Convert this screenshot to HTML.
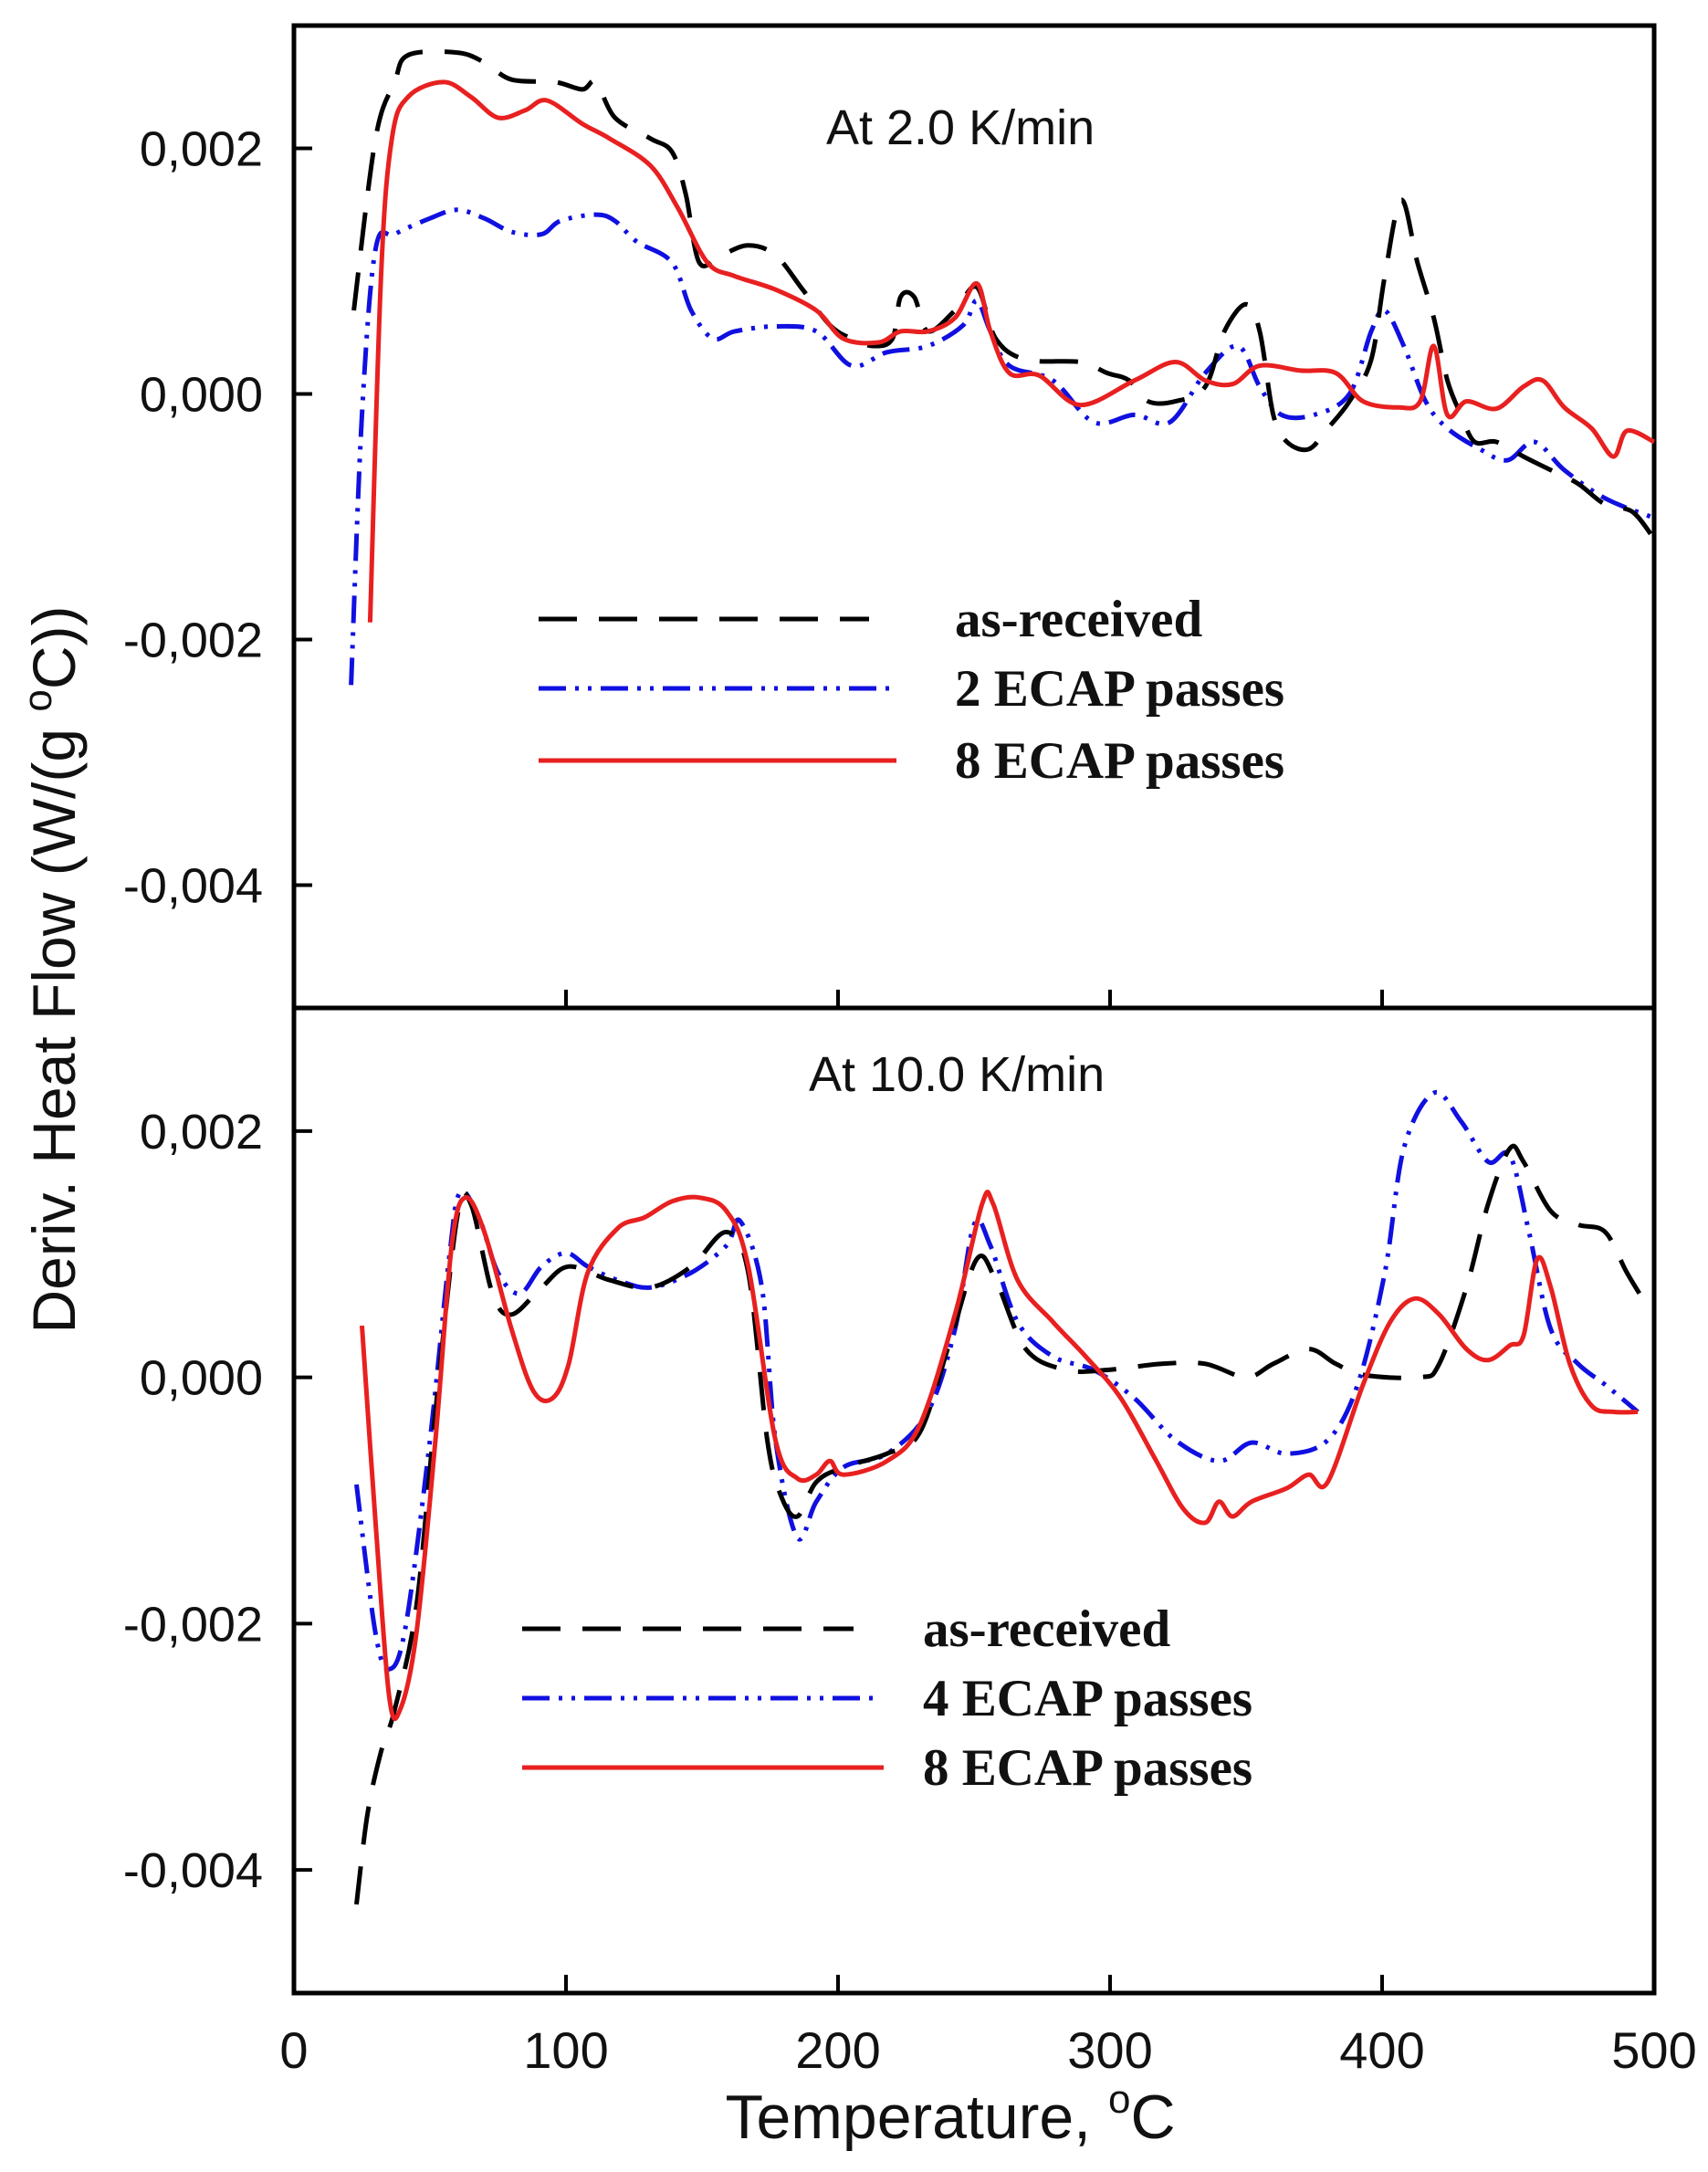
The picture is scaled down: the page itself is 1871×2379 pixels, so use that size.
<!DOCTYPE html>
<html><head><meta charset="utf-8"><style>
html,body{margin:0;padding:0;background:#fff;}
svg{display:block;}
</style></head><body>
<svg id="chart" width="1871" height="2379" viewBox="0 0 1871 2379" xmlns="http://www.w3.org/2000/svg" font-family="'Liberation Sans', sans-serif">
<g id="axes"></g>
<g id="plots"></g>
<text x="905" y="158" font-size="54" fill="#111">At 2.0 K/min</text>
<text x="886" y="1195" font-size="54" fill="#111">At 10.0 K/min</text>
<text x="1041" y="2342" font-size="68" text-anchor="middle" fill="#111">Temperature, <tspan font-size="44" dy="-28">o</tspan><tspan dy="28">C</tspan></text>
<text transform="translate(82,1062) rotate(-90)" font-size="66" text-anchor="middle" fill="#111">Deriv. Heat Flow (W/(g <tspan font-size="44" dy="-26">o</tspan><tspan dy="26">C))</tspan></text>
<g font-family="'Liberation Serif', serif" font-weight="bold" font-size="57" fill="#111">
<line x1="590" y1="678" x2="952" y2="678" stroke="#000" stroke-width="5" stroke-dasharray="42,24"/>
<text x="1046" y="697">as-received</text>
<line x1="590" y1="754" x2="975" y2="754" stroke="#1010e0" stroke-width="5" stroke-dasharray="30,10,4,10,4,10"/>
<text x="1046" y="773">2 ECAP passes</text>
<line x1="590" y1="833" x2="982" y2="833" stroke="#e82020" stroke-width="5"/>
<text x="1046" y="852">8 ECAP passes</text>
</g>
<g font-family="'Liberation Serif', serif" font-weight="bold" font-size="57" fill="#111">
<line x1="572" y1="1784" x2="935" y2="1784" stroke="#000" stroke-width="5" stroke-dasharray="42,24"/>
<text x="1011" y="1803">as-received</text>
<line x1="572" y1="1860" x2="960" y2="1860" stroke="#1010e0" stroke-width="5" stroke-dasharray="30,10,4,10,4,10"/>
<text x="1011" y="1879">4 ECAP passes</text>
<line x1="572" y1="1936" x2="968" y2="1936" stroke="#e82020" stroke-width="5"/>
<text x="1011" y="1955">8 ECAP passes</text>
</g>
</svg>
<script>
// values in units of 1e-3 W/(g°C)
const xTicks = [0,100,200,300,400,500];
const yTicks = [0.002,0,-0.002,-0.004];
const yTickLabels = ["0,002","0,000","-0,002","-0,004"];
const topAsT = [22,30,37,42,60,70,80,96,106,111,118,131,139,144,149,157,167,177,187,197,205,213,220,223,228,233,243,251,258,269,289,299,307,314,324,335,342,350,355,360,365,373,380,388,396,401,407,413,419,424,429,434,442,452,462,472,482,492,500];
const topAsV = [0.68,2.08,2.54,2.76,2.78,2.70,2.56,2.54,2.48,2.54,2.25,2.08,1.97,1.63,1.07,1.13,1.21,1.13,0.85,0.56,0.45,0.39,0.45,0.79,0.79,0.51,0.68,0.87,0.45,0.28,0.26,0.17,0.11,-0.06,-0.06,0.06,0.51,0.73,0.51,-0.17,-0.39,-0.45,-0.28,-0.06,0.28,0.96,1.58,1.07,0.62,0.11,-0.17,-0.39,-0.39,-0.51,-0.62,-0.73,-0.90,-0.96,-1.18];
const top2T = [21,25,30,37,50,60,70,80,91,98,111,118,126,139,146,154,162,177,192,205,218,233,246,251,256,263,279,294,309,322,335,347,355,363,375,388,396,401,408,416,424,436,446,456,467,482,500];
const top2V = [-2.37,-0.17,1.18,1.30,1.43,1.50,1.43,1.32,1.30,1.41,1.46,1.41,1.24,1.07,0.68,0.45,0.51,0.55,0.51,0.23,0.34,0.39,0.56,0.76,0.51,0.23,0.11,-0.23,-0.17,-0.23,0.17,0.39,0.06,-0.17,-0.17,0.0,0.51,0.68,0.39,-0.06,-0.28,-0.45,-0.54,-0.39,-0.62,-0.85,-1.01];
const top8T = [28,32,36,42,55,65,75,85,93,106,116,131,141,152,162,177,192,202,215,223,233,243,251,256,263,274,289,309,324,335,345,355,370,383,393,406,414,419,424,431,442,452,459,467,477,485,490,500];
const top8V = [-1.86,0.96,2.08,2.42,2.54,2.42,2.25,2.31,2.39,2.20,2.08,1.86,1.52,1.07,0.96,0.85,0.68,0.45,0.42,0.51,0.51,0.62,0.90,0.51,0.17,0.15,-0.09,0.11,0.26,0.11,0.08,0.23,0.19,0.17,-0.06,-0.11,-0.06,0.39,-0.17,-0.06,-0.12,0.06,0.11,-0.11,-0.28,-0.51,-0.30,-0.39];
const botAsT = [23,27,32,37,45,52,60,65,73,80,91,101,116,131,146,159,167,174,179,185,192,202,218,230,241,251,258,269,284,299,319,335,350,360,373,383,393,414,421,431,439,447,452,462,472,482,490,498];
const botAsV = [-4.28,-3.55,-3.04,-2.70,-1.86,-0.28,1.30,1.41,0.68,0.51,0.73,0.90,0.79,0.73,0.90,1.18,0.85,-0.51,-0.96,-1.13,-0.85,-0.73,-0.62,-0.45,0.28,0.96,0.79,0.23,0.06,0.06,0.11,0.11,0.0,0.11,0.23,0.11,0.02,0.0,0.11,0.73,1.41,1.86,1.75,1.35,1.24,1.18,0.85,0.56];
const bot4T = [23,30,35,41,50,57,61,68,75,83,91,100,108,119,131,146,159,164,172,177,185,192,202,218,233,243,250,256,266,279,294,309,324,340,352,365,380,391,401,408,419,429,439,447,454,462,472,482,494];
const bot4V = [-0.87,-2.08,-2.37,-2.03,-0.51,0.96,1.50,1.30,0.85,0.68,0.90,1.01,0.90,0.79,0.73,0.85,1.07,1.27,0.73,-0.51,-1.30,-1.01,-0.73,-0.62,-0.28,0.39,1.24,1.07,0.45,0.17,0.06,-0.17,-0.51,-0.68,-0.53,-0.62,-0.51,-0.06,0.85,1.86,2.31,2.08,1.75,1.80,1.18,0.39,0.11,-0.06,-0.28];
const bot8T = [25,30,35,39,45,52,58,63,70,80,88,95,101,108,119,129,139,149,159,167,177,185,192,197,202,218,230,243,253,257,266,279,291,304,317,327,335,340,345,352,365,373,380,393,403,412,421,431,439,447,452,457,462,469,477,485,494];
const bot8V = [0.42,-1.18,-2.59,-2.70,-2.08,-0.51,1.07,1.46,1.18,0.39,-0.11,-0.17,0.11,0.85,1.21,1.30,1.43,1.46,1.35,0.90,-0.51,-0.82,-0.79,-0.68,-0.79,-0.68,-0.39,0.51,1.41,1.41,0.79,0.45,0.17,-0.17,-0.68,-1.07,-1.18,-1.01,-1.13,-1.01,-0.90,-0.79,-0.85,-0.06,0.45,0.64,0.51,0.23,0.14,0.26,0.34,0.96,0.73,0.11,-0.23,-0.28,-0.28];

const NS = 'http://www.w3.org/2000/svg';
const X0 = 322, X1 = 1812;
const panels = [{top:28,bot:1104,name:'top'},{top:1104,bot:2183,name:'bottom'}];
const xs = t => X0 + (t/500)*(X1-X0);
function ys(p, v){ return p.bot - (v - (-0.005))/0.008*(p.bot-p.top); }
function mk(tag, attrs, parent){ const e=document.createElementNS(NS,tag); for(const k in attrs) e.setAttribute(k,attrs[k]); parent.appendChild(e); return e; }
const axes = document.getElementById('axes');
const plots = document.getElementById('plots');

panels.forEach(p=>{
  const r = mk('rect',{x:X0,y:p.top,width:X1-X0,height:p.bot-p.top,fill:'none',stroke:'#000','stroke-width':5},axes);
  
  
  yTicks.forEach((v,i)=>{
    const y = ys(p,v);
    const t = mk('line',{x1:X0,x2:X0+20,y1:y,y2:y,stroke:'#000','stroke-width':4},axes);
    
    
    const l = mk('text',{x:288,y:y+19,'font-size':54,'text-anchor':'end',fill:'#111'},axes);
    l.textContent = yTickLabels[i];
    
    
  });
  xTicks.slice(1,-1).forEach(tv=>{
    const x = xs(tv);
    const t = mk('line',{x1:x,x2:x,y1:p.bot,y2:p.bot-20,stroke:'#000','stroke-width':4},axes);
    
    
  });
});
xTicks.forEach(tv=>{
  const l = mk('text',{x:xs(tv),y:2265,'font-size':56,'text-anchor':'middle',fill:'#111'},axes);
  l.textContent = String(tv);
  
  
});

function pathD(p, T, V){
  const pts = T.map((t,i)=>[xs(t), ys(p, V[i]*0.001)]);
  let d = 'M'+pts[0][0].toFixed(1)+','+pts[0][1].toFixed(1);
  for(let i=0;i<pts.length-1;i++){
    const p0=pts[Math.max(0,i-1)], p1=pts[i], p2=pts[i+1], p3=pts[Math.min(pts.length-1,i+2)];
    const c1=[p1[0]+(p2[0]-p0[0])/6, p1[1]+(p2[1]-p0[1])/6];
    const c2=[p2[0]-(p3[0]-p1[0])/6, p2[1]-(p3[1]-p1[1])/6];
    d += 'C'+c1[0].toFixed(1)+','+c1[1].toFixed(1)+' '+c2[0].toFixed(1)+','+c2[1].toFixed(1)+' '+p2[0].toFixed(1)+','+p2[1].toFixed(1);
  }
  return d;
}
const series = [
  [panels[0], top2T, top2V, '#1010e0', '30,10,4,10,4,10', 'top-2ecap-line'],
  [panels[0], topAsT, topAsV, '#000', '42,24', 'top-as-received-line'],
  [panels[0], top8T, top8V, '#e82020', '', 'top-8ecap-line'],
  [panels[1], bot4T, bot4V, '#1010e0', '30,10,4,10,4,10', 'bottom-4ecap-line'],
  [panels[1], botAsT, botAsV, '#000', '42,24', 'bottom-as-received-line'],
  [panels[1], bot8T, bot8V, '#e82020', '', 'bottom-8ecap-line']
];
series.forEach(s=>{
  const a = {d:pathD(s[0],s[1],s[2]),fill:'none',stroke:s[3],'stroke-width':5,'stroke-linejoin':'round'};
  if(s[4]) a['stroke-dasharray']=s[4];
  const e = mk('path',a,plots);
  
  
});
</script>
</body></html>
